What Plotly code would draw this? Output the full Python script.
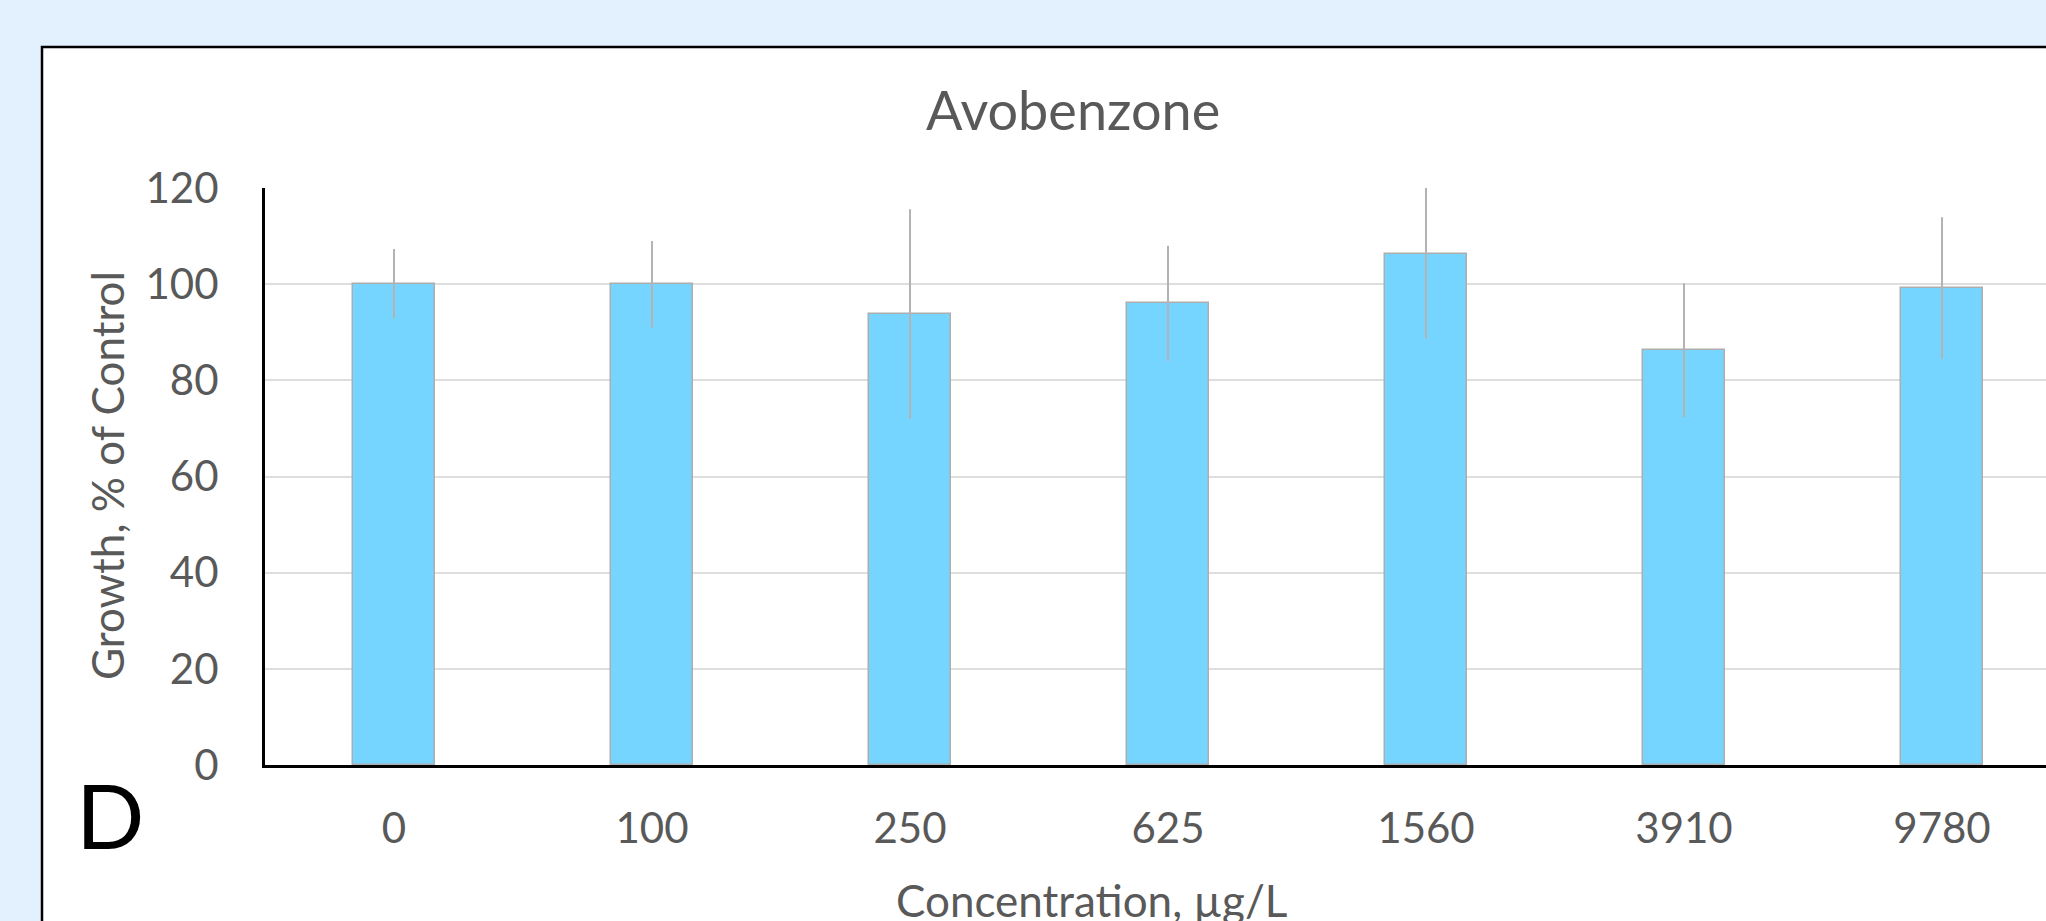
import plotly.graph_objects as go

# ---- data ----
categories = ["0", "100", "250", "625", "1560", "3910", "9780"]
growth = [100.1, 100.0, 93.8, 96.0, 106.2, 86.3, 99.2]
error = [7.2, 9.0, 21.8, 12.0, 17.5, 13.9, 14.7]
y_ticks = [0, 20, 40, 60, 80, 100, 120]

title_text = "Avobenzone"
x_title = "Concentration, µg/L"
y_title = "Growth, % of Control"
panel_label = "D"

# ---- layout geometry (pixels) ----
W, H = 2046, 921
L, T = 265, 188
B = H - 765
R = 0
PW, PH = W - L - R, H - T - B
CAT_STEP = 258.0  # pixel spacing between categories
x_end = -0.5 + PW / CAT_STEP


def px_x(px):  # screen px -> paper
    return (px - L) / PW


def px_y(py):
    return (H - B - py) / PH


FONT = "Lato, 'Open Sans', sans-serif"
TXT = "#595959"

fig = go.Figure()
fig.add_trace(go.Bar(
    x=categories,
    y=growth,
    width=0.314,
    marker=dict(color="#76D5FE", line=dict(color="#ADADAD", width=1.5)),
    error_y=dict(type="data", array=error, visible=True,
                 color="#B3B3B3", thickness=2, width=0),
    showlegend=False,
))

fig.update_layout(
    width=W, height=H,
    margin=dict(l=L, r=R, t=T, b=B, pad=0),
    paper_bgcolor="#E3F1FE",
    plot_bgcolor="#FFFFFF",
    font=dict(family=FONT, color=TXT),
    bargap=0,
    xaxis=dict(
        type="category",
        range=[-0.5, x_end],
        showline=True, linecolor="black", linewidth=3,
        showgrid=False,
        ticks="outside", ticklen=25, tickcolor="rgba(0,0,0,0)",
        tickfont=dict(size=42, color=TXT, family=FONT),
        zeroline=False,
    ),
    yaxis=dict(
        range=[0, 120],
        tickvals=y_ticks,
        showline=True, linecolor="black", linewidth=3,
        showgrid=True, gridcolor="#DEDEDE", gridwidth=1.5,
        ticks="outside", ticklen=35, tickcolor="rgba(0,0,0,0)",
        tickfont=dict(size=42, color=TXT, family=FONT),
        zeroline=False,
    ),
    shapes=[dict(
        type="rect", xref="paper", yref="paper", layer="below",
        x0=px_x(42), x1=px_x(W + 100), y0=px_y(H + 100), y1=px_y(47),
        fillcolor="white", line=dict(color="black", width=2.5),
    )],
    annotations=[
        dict(text=title_text, xref="paper", yref="paper",
             x=px_x(1073), y=px_y(109), xanchor="center", yanchor="middle",
             showarrow=False, font=dict(size=54, color=TXT, family=FONT)),
        dict(text=y_title, xref="paper", yref="paper",
             x=px_x(107), y=px_y(476), xanchor="center", yanchor="middle",
             textangle=-90,
             showarrow=False, font=dict(size=44, color=TXT, family=FONT)),
        dict(text=x_title, xref="paper", yref="paper",
             x=px_x(1091), y=px_y(900), xanchor="center", yanchor="middle",
             showarrow=False, font=dict(size=44, color=TXT, family=FONT)),
        dict(text=panel_label, xref="paper", yref="paper",
             x=px_x(110), y=px_y(814), xanchor="center", yanchor="middle",
             showarrow=False, font=dict(size=90, color="black", family=FONT)),
    ],
)

fig.write_html(
    "out.html",
    config={"displayModeBar": False},
    post_script="document.body.style.margin='0';document.body.style.overflow='hidden';",
)
